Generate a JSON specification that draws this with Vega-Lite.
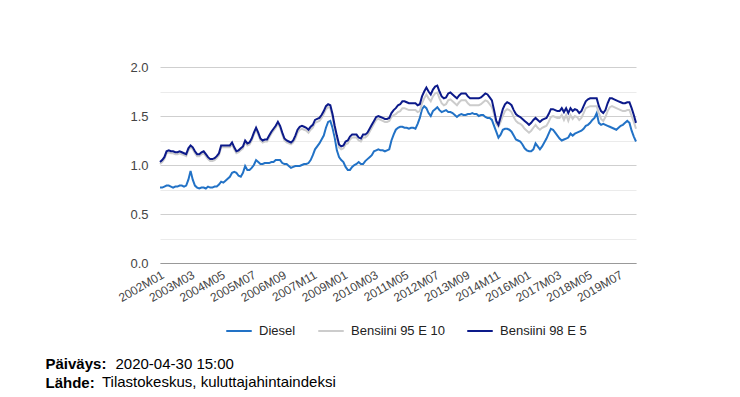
{
"$schema": "https://vega.github.io/schema/vega-lite/v6.json",
"width": 476,
"height": 196,
"autosize": {"type": "none"},
"padding": {"left": 160, "top": 67, "right": 104, "bottom": 134},
"background": "white",
"config": {"font": "Liberation Sans", "view": {"stroke": null}},
"title": {"text": "Tilastokeskus, kuluttajahintaindeksi", "orient": "none", "anchor": "start", "dx": -58, "dy": 320, "fontSize": 15, "fontWeight": "normal", "color": "#000000", "baseline": "alphabetic"},
"data": {"values": [
{"m":"2002M01","Diesel":0.77,"Bensiini 95 E 10":1.01,"Bensiini 98 E 5":1.03},
{"m":"2002M02","Diesel":0.77,"Bensiini 95 E 10":1.03,"Bensiini 98 E 5":1.05},
{"m":"2002M03","Diesel":0.78,"Bensiini 95 E 10":1.06,"Bensiini 98 E 5":1.08},
{"m":"2002M04","Diesel":0.79,"Bensiini 95 E 10":1.12,"Bensiini 98 E 5":1.14},
{"m":"2002M05","Diesel":0.79,"Bensiini 95 E 10":1.13,"Bensiini 98 E 5":1.15},
{"m":"2002M06","Diesel":0.78,"Bensiini 95 E 10":1.12,"Bensiini 98 E 5":1.14},
{"m":"2002M07","Diesel":0.77,"Bensiini 95 E 10":1.12,"Bensiini 98 E 5":1.14},
{"m":"2002M08","Diesel":0.78,"Bensiini 95 E 10":1.11,"Bensiini 98 E 5":1.13},
{"m":"2002M09","Diesel":0.78,"Bensiini 95 E 10":1.11,"Bensiini 98 E 5":1.13},
{"m":"2002M10","Diesel":0.79,"Bensiini 95 E 10":1.12,"Bensiini 98 E 5":1.14},
{"m":"2002M11","Diesel":0.79,"Bensiini 95 E 10":1.11,"Bensiini 98 E 5":1.13},
{"m":"2002M12","Diesel":0.78,"Bensiini 95 E 10":1.10,"Bensiini 98 E 5":1.12},
{"m":"2003M01","Diesel":0.79,"Bensiini 95 E 10":1.09,"Bensiini 98 E 5":1.11},
{"m":"2003M02","Diesel":0.85,"Bensiini 95 E 10":1.15,"Bensiini 98 E 5":1.17},
{"m":"2003M03","Diesel":0.94,"Bensiini 95 E 10":1.18,"Bensiini 98 E 5":1.20},
{"m":"2003M04","Diesel":0.85,"Bensiini 95 E 10":1.16,"Bensiini 98 E 5":1.18},
{"m":"2003M05","Diesel":0.79,"Bensiini 95 E 10":1.12,"Bensiini 98 E 5":1.14},
{"m":"2003M06","Diesel":0.77,"Bensiini 95 E 10":1.09,"Bensiini 98 E 5":1.11},
{"m":"2003M07","Diesel":0.76,"Bensiini 95 E 10":1.09,"Bensiini 98 E 5":1.11},
{"m":"2003M08","Diesel":0.77,"Bensiini 95 E 10":1.11,"Bensiini 98 E 5":1.13},
{"m":"2003M09","Diesel":0.77,"Bensiini 95 E 10":1.12,"Bensiini 98 E 5":1.14},
{"m":"2003M10","Diesel":0.76,"Bensiini 95 E 10":1.09,"Bensiini 98 E 5":1.11},
{"m":"2003M11","Diesel":0.78,"Bensiini 95 E 10":1.06,"Bensiini 98 E 5":1.08},
{"m":"2003M12","Diesel":0.77,"Bensiini 95 E 10":1.04,"Bensiini 98 E 5":1.06},
{"m":"2004M01","Diesel":0.77,"Bensiini 95 E 10":1.04,"Bensiini 98 E 5":1.06},
{"m":"2004M02","Diesel":0.78,"Bensiini 95 E 10":1.05,"Bensiini 98 E 5":1.07},
{"m":"2004M03","Diesel":0.78,"Bensiini 95 E 10":1.07,"Bensiini 98 E 5":1.09},
{"m":"2004M04","Diesel":0.80,"Bensiini 95 E 10":1.10,"Bensiini 98 E 5":1.12},
{"m":"2004M05","Diesel":0.83,"Bensiini 95 E 10":1.18,"Bensiini 98 E 5":1.20},
{"m":"2004M06","Diesel":0.82,"Bensiini 95 E 10":1.18,"Bensiini 98 E 5":1.20},
{"m":"2004M07","Diesel":0.84,"Bensiini 95 E 10":1.18,"Bensiini 98 E 5":1.20},
{"m":"2004M08","Diesel":0.86,"Bensiini 95 E 10":1.18,"Bensiini 98 E 5":1.20},
{"m":"2004M09","Diesel":0.88,"Bensiini 95 E 10":1.18,"Bensiini 98 E 5":1.20},
{"m":"2004M10","Diesel":0.92,"Bensiini 95 E 10":1.21,"Bensiini 98 E 5":1.23},
{"m":"2004M11","Diesel":0.93,"Bensiini 95 E 10":1.16,"Bensiini 98 E 5":1.18},
{"m":"2004M12","Diesel":0.92,"Bensiini 95 E 10":1.12,"Bensiini 98 E 5":1.14},
{"m":"2005M01","Diesel":0.89,"Bensiini 95 E 10":1.13,"Bensiini 98 E 5":1.15},
{"m":"2005M02","Diesel":0.88,"Bensiini 95 E 10":1.15,"Bensiini 98 E 5":1.17},
{"m":"2005M03","Diesel":0.92,"Bensiini 95 E 10":1.17,"Bensiini 98 E 5":1.19},
{"m":"2005M04","Diesel":0.99,"Bensiini 95 E 10":1.23,"Bensiini 98 E 5":1.25},
{"m":"2005M05","Diesel":0.95,"Bensiini 95 E 10":1.20,"Bensiini 98 E 5":1.22},
{"m":"2005M06","Diesel":0.95,"Bensiini 95 E 10":1.21,"Bensiini 98 E 5":1.23},
{"m":"2005M07","Diesel":0.97,"Bensiini 95 E 10":1.25,"Bensiini 98 E 5":1.27},
{"m":"2005M08","Diesel":1.00,"Bensiini 95 E 10":1.31,"Bensiini 98 E 5":1.33},
{"m":"2005M09","Diesel":1.05,"Bensiini 95 E 10":1.36,"Bensiini 98 E 5":1.38},
{"m":"2005M10","Diesel":1.03,"Bensiini 95 E 10":1.31,"Bensiini 98 E 5":1.33},
{"m":"2005M11","Diesel":1.01,"Bensiini 95 E 10":1.25,"Bensiini 98 E 5":1.27},
{"m":"2005M12","Diesel":1.01,"Bensiini 95 E 10":1.23,"Bensiini 98 E 5":1.25},
{"m":"2006M01","Diesel":1.02,"Bensiini 95 E 10":1.24,"Bensiini 98 E 5":1.26},
{"m":"2006M02","Diesel":1.02,"Bensiini 95 E 10":1.24,"Bensiini 98 E 5":1.26},
{"m":"2006M03","Diesel":1.02,"Bensiini 95 E 10":1.28,"Bensiini 98 E 5":1.30},
{"m":"2006M04","Diesel":1.03,"Bensiini 95 E 10":1.32,"Bensiini 98 E 5":1.34},
{"m":"2006M05","Diesel":1.03,"Bensiini 95 E 10":1.35,"Bensiini 98 E 5":1.37},
{"m":"2006M06","Diesel":1.05,"Bensiini 95 E 10":1.38,"Bensiini 98 E 5":1.40},
{"m":"2006M07","Diesel":1.05,"Bensiini 95 E 10":1.42,"Bensiini 98 E 5":1.44},
{"m":"2006M08","Diesel":1.05,"Bensiini 95 E 10":1.38,"Bensiini 98 E 5":1.40},
{"m":"2006M09","Diesel":1.02,"Bensiini 95 E 10":1.31,"Bensiini 98 E 5":1.33},
{"m":"2006M10","Diesel":1.01,"Bensiini 95 E 10":1.25,"Bensiini 98 E 5":1.27},
{"m":"2006M11","Diesel":1.01,"Bensiini 95 E 10":1.23,"Bensiini 98 E 5":1.25},
{"m":"2006M12","Diesel":0.99,"Bensiini 95 E 10":1.22,"Bensiini 98 E 5":1.24},
{"m":"2007M01","Diesel":0.97,"Bensiini 95 E 10":1.21,"Bensiini 98 E 5":1.23},
{"m":"2007M02","Diesel":0.98,"Bensiini 95 E 10":1.23,"Bensiini 98 E 5":1.25},
{"m":"2007M03","Diesel":0.99,"Bensiini 95 E 10":1.27,"Bensiini 98 E 5":1.30},
{"m":"2007M04","Diesel":0.99,"Bensiini 95 E 10":1.33,"Bensiini 98 E 5":1.36},
{"m":"2007M05","Diesel":0.99,"Bensiini 95 E 10":1.36,"Bensiini 98 E 5":1.39},
{"m":"2007M06","Diesel":1.00,"Bensiini 95 E 10":1.37,"Bensiini 98 E 5":1.40},
{"m":"2007M07","Diesel":1.01,"Bensiini 95 E 10":1.36,"Bensiini 98 E 5":1.39},
{"m":"2007M08","Diesel":1.01,"Bensiini 95 E 10":1.35,"Bensiini 98 E 5":1.38},
{"m":"2007M09","Diesel":1.02,"Bensiini 95 E 10":1.33,"Bensiini 98 E 5":1.36},
{"m":"2007M10","Diesel":1.05,"Bensiini 95 E 10":1.36,"Bensiini 98 E 5":1.39},
{"m":"2007M11","Diesel":1.10,"Bensiini 95 E 10":1.38,"Bensiini 98 E 5":1.41},
{"m":"2007M12","Diesel":1.16,"Bensiini 95 E 10":1.43,"Bensiini 98 E 5":1.46},
{"m":"2008M01","Diesel":1.19,"Bensiini 95 E 10":1.44,"Bensiini 98 E 5":1.47},
{"m":"2008M02","Diesel":1.22,"Bensiini 95 E 10":1.45,"Bensiini 98 E 5":1.48},
{"m":"2008M03","Diesel":1.26,"Bensiini 95 E 10":1.48,"Bensiini 98 E 5":1.51},
{"m":"2008M04","Diesel":1.30,"Bensiini 95 E 10":1.52,"Bensiini 98 E 5":1.55},
{"m":"2008M05","Diesel":1.38,"Bensiini 95 E 10":1.57,"Bensiini 98 E 5":1.60},
{"m":"2008M06","Diesel":1.44,"Bensiini 95 E 10":1.59,"Bensiini 98 E 5":1.62},
{"m":"2008M07","Diesel":1.45,"Bensiini 95 E 10":1.58,"Bensiini 98 E 5":1.61},
{"m":"2008M08","Diesel":1.38,"Bensiini 95 E 10":1.49,"Bensiini 98 E 5":1.52},
{"m":"2008M09","Diesel":1.28,"Bensiini 95 E 10":1.37,"Bensiini 98 E 5":1.40},
{"m":"2008M10","Diesel":1.15,"Bensiini 95 E 10":1.27,"Bensiini 98 E 5":1.30},
{"m":"2008M11","Diesel":1.08,"Bensiini 95 E 10":1.18,"Bensiini 98 E 5":1.21},
{"m":"2008M12","Diesel":1.05,"Bensiini 95 E 10":1.16,"Bensiini 98 E 5":1.19},
{"m":"2009M01","Diesel":1.03,"Bensiini 95 E 10":1.17,"Bensiini 98 E 5":1.20},
{"m":"2009M02","Diesel":0.98,"Bensiini 95 E 10":1.21,"Bensiini 98 E 5":1.24},
{"m":"2009M03","Diesel":0.95,"Bensiini 95 E 10":1.22,"Bensiini 98 E 5":1.25},
{"m":"2009M04","Diesel":0.95,"Bensiini 95 E 10":1.26,"Bensiini 98 E 5":1.29},
{"m":"2009M05","Diesel":0.98,"Bensiini 95 E 10":1.28,"Bensiini 98 E 5":1.31},
{"m":"2009M06","Diesel":1.00,"Bensiini 95 E 10":1.28,"Bensiini 98 E 5":1.31},
{"m":"2009M07","Diesel":1.01,"Bensiini 95 E 10":1.28,"Bensiini 98 E 5":1.31},
{"m":"2009M08","Diesel":1.03,"Bensiini 95 E 10":1.25,"Bensiini 98 E 5":1.28},
{"m":"2009M09","Diesel":1.01,"Bensiini 95 E 10":1.24,"Bensiini 98 E 5":1.27},
{"m":"2009M10","Diesel":1.01,"Bensiini 95 E 10":1.28,"Bensiini 98 E 5":1.31},
{"m":"2009M11","Diesel":1.04,"Bensiini 95 E 10":1.28,"Bensiini 98 E 5":1.31},
{"m":"2009M12","Diesel":1.06,"Bensiini 95 E 10":1.30,"Bensiini 98 E 5":1.33},
{"m":"2010M01","Diesel":1.08,"Bensiini 95 E 10":1.34,"Bensiini 98 E 5":1.37},
{"m":"2010M02","Diesel":1.10,"Bensiini 95 E 10":1.38,"Bensiini 98 E 5":1.41},
{"m":"2010M03","Diesel":1.14,"Bensiini 95 E 10":1.42,"Bensiini 98 E 5":1.45},
{"m":"2010M04","Diesel":1.15,"Bensiini 95 E 10":1.46,"Bensiini 98 E 5":1.49},
{"m":"2010M05","Diesel":1.16,"Bensiini 95 E 10":1.47,"Bensiini 98 E 5":1.50},
{"m":"2010M06","Diesel":1.15,"Bensiini 95 E 10":1.46,"Bensiini 98 E 5":1.49},
{"m":"2010M07","Diesel":1.15,"Bensiini 95 E 10":1.45,"Bensiini 98 E 5":1.48},
{"m":"2010M08","Diesel":1.14,"Bensiini 95 E 10":1.44,"Bensiini 98 E 5":1.47},
{"m":"2010M09","Diesel":1.15,"Bensiini 95 E 10":1.44,"Bensiini 98 E 5":1.47},
{"m":"2010M10","Diesel":1.16,"Bensiini 95 E 10":1.45,"Bensiini 98 E 5":1.48},
{"m":"2010M11","Diesel":1.25,"Bensiini 95 E 10":1.49,"Bensiini 98 E 5":1.53},
{"m":"2010M12","Diesel":1.31,"Bensiini 95 E 10":1.51,"Bensiini 98 E 5":1.56},
{"m":"2011M01","Diesel":1.36,"Bensiini 95 E 10":1.52,"Bensiini 98 E 5":1.58},
{"m":"2011M02","Diesel":1.38,"Bensiini 95 E 10":1.54,"Bensiini 98 E 5":1.61},
{"m":"2011M03","Diesel":1.39,"Bensiini 95 E 10":1.55,"Bensiini 98 E 5":1.62},
{"m":"2011M04","Diesel":1.39,"Bensiini 95 E 10":1.58,"Bensiini 98 E 5":1.65},
{"m":"2011M05","Diesel":1.38,"Bensiini 95 E 10":1.58,"Bensiini 98 E 5":1.65},
{"m":"2011M06","Diesel":1.38,"Bensiini 95 E 10":1.57,"Bensiini 98 E 5":1.64},
{"m":"2011M07","Diesel":1.37,"Bensiini 95 E 10":1.56,"Bensiini 98 E 5":1.63},
{"m":"2011M08","Diesel":1.38,"Bensiini 95 E 10":1.56,"Bensiini 98 E 5":1.63},
{"m":"2011M09","Diesel":1.38,"Bensiini 95 E 10":1.56,"Bensiini 98 E 5":1.63},
{"m":"2011M10","Diesel":1.37,"Bensiini 95 E 10":1.56,"Bensiini 98 E 5":1.63},
{"m":"2011M11","Diesel":1.42,"Bensiini 95 E 10":1.54,"Bensiini 98 E 5":1.61},
{"m":"2011M12","Diesel":1.48,"Bensiini 95 E 10":1.55,"Bensiini 98 E 5":1.62},
{"m":"2012M01","Diesel":1.57,"Bensiini 95 E 10":1.63,"Bensiini 98 E 5":1.70},
{"m":"2012M02","Diesel":1.60,"Bensiini 95 E 10":1.68,"Bensiini 98 E 5":1.75},
{"m":"2012M03","Diesel":1.58,"Bensiini 95 E 10":1.72,"Bensiini 98 E 5":1.79},
{"m":"2012M04","Diesel":1.53,"Bensiini 95 E 10":1.68,"Bensiini 98 E 5":1.75},
{"m":"2012M05","Diesel":1.50,"Bensiini 95 E 10":1.65,"Bensiini 98 E 5":1.72},
{"m":"2012M06","Diesel":1.55,"Bensiini 95 E 10":1.70,"Bensiini 98 E 5":1.77},
{"m":"2012M07","Diesel":1.57,"Bensiini 95 E 10":1.73,"Bensiini 98 E 5":1.80},
{"m":"2012M08","Diesel":1.59,"Bensiini 95 E 10":1.74,"Bensiini 98 E 5":1.81},
{"m":"2012M09","Diesel":1.56,"Bensiini 95 E 10":1.68,"Bensiini 98 E 5":1.75},
{"m":"2012M10","Diesel":1.54,"Bensiini 95 E 10":1.63,"Bensiini 98 E 5":1.70},
{"m":"2012M11","Diesel":1.55,"Bensiini 95 E 10":1.61,"Bensiini 98 E 5":1.68},
{"m":"2012M12","Diesel":1.56,"Bensiini 95 E 10":1.62,"Bensiini 98 E 5":1.69},
{"m":"2013M01","Diesel":1.54,"Bensiini 95 E 10":1.66,"Bensiini 98 E 5":1.73},
{"m":"2013M02","Diesel":1.54,"Bensiini 95 E 10":1.67,"Bensiini 98 E 5":1.74},
{"m":"2013M03","Diesel":1.53,"Bensiini 95 E 10":1.65,"Bensiini 98 E 5":1.72},
{"m":"2013M04","Diesel":1.51,"Bensiini 95 E 10":1.63,"Bensiini 98 E 5":1.70},
{"m":"2013M05","Diesel":1.49,"Bensiini 95 E 10":1.61,"Bensiini 98 E 5":1.68},
{"m":"2013M06","Diesel":1.51,"Bensiini 95 E 10":1.64,"Bensiini 98 E 5":1.71},
{"m":"2013M07","Diesel":1.52,"Bensiini 95 E 10":1.66,"Bensiini 98 E 5":1.73},
{"m":"2013M08","Diesel":1.51,"Bensiini 95 E 10":1.66,"Bensiini 98 E 5":1.73},
{"m":"2013M09","Diesel":1.51,"Bensiini 95 E 10":1.66,"Bensiini 98 E 5":1.73},
{"m":"2013M10","Diesel":1.52,"Bensiini 95 E 10":1.63,"Bensiini 98 E 5":1.70},
{"m":"2013M11","Diesel":1.52,"Bensiini 95 E 10":1.61,"Bensiini 98 E 5":1.68},
{"m":"2013M12","Diesel":1.53,"Bensiini 95 E 10":1.61,"Bensiini 98 E 5":1.68},
{"m":"2014M01","Diesel":1.52,"Bensiini 95 E 10":1.61,"Bensiini 98 E 5":1.68},
{"m":"2014M02","Diesel":1.52,"Bensiini 95 E 10":1.61,"Bensiini 98 E 5":1.68},
{"m":"2014M03","Diesel":1.50,"Bensiini 95 E 10":1.61,"Bensiini 98 E 5":1.68},
{"m":"2014M04","Diesel":1.51,"Bensiini 95 E 10":1.62,"Bensiini 98 E 5":1.69},
{"m":"2014M05","Diesel":1.51,"Bensiini 95 E 10":1.64,"Bensiini 98 E 5":1.71},
{"m":"2014M06","Diesel":1.49,"Bensiini 95 E 10":1.66,"Bensiini 98 E 5":1.73},
{"m":"2014M07","Diesel":1.48,"Bensiini 95 E 10":1.65,"Bensiini 98 E 5":1.72},
{"m":"2014M08","Diesel":1.48,"Bensiini 95 E 10":1.62,"Bensiini 98 E 5":1.69},
{"m":"2014M09","Diesel":1.46,"Bensiini 95 E 10":1.59,"Bensiini 98 E 5":1.66},
{"m":"2014M10","Diesel":1.40,"Bensiini 95 E 10":1.52,"Bensiini 98 E 5":1.56},
{"m":"2014M11","Diesel":1.34,"Bensiini 95 E 10":1.42,"Bensiini 98 E 5":1.45},
{"m":"2014M12","Diesel":1.28,"Bensiini 95 E 10":1.39,"Bensiini 98 E 5":1.41},
{"m":"2015M01","Diesel":1.31,"Bensiini 95 E 10":1.44,"Bensiini 98 E 5":1.49},
{"m":"2015M02","Diesel":1.36,"Bensiini 95 E 10":1.50,"Bensiini 98 E 5":1.57},
{"m":"2015M03","Diesel":1.37,"Bensiini 95 E 10":1.55,"Bensiini 98 E 5":1.62},
{"m":"2015M04","Diesel":1.37,"Bensiini 95 E 10":1.57,"Bensiini 98 E 5":1.64},
{"m":"2015M05","Diesel":1.36,"Bensiini 95 E 10":1.56,"Bensiini 98 E 5":1.63},
{"m":"2015M06","Diesel":1.34,"Bensiini 95 E 10":1.54,"Bensiini 98 E 5":1.61},
{"m":"2015M07","Diesel":1.30,"Bensiini 95 E 10":1.49,"Bensiini 98 E 5":1.56},
{"m":"2015M08","Diesel":1.26,"Bensiini 95 E 10":1.45,"Bensiini 98 E 5":1.52},
{"m":"2015M09","Diesel":1.25,"Bensiini 95 E 10":1.43,"Bensiini 98 E 5":1.50},
{"m":"2015M10","Diesel":1.24,"Bensiini 95 E 10":1.42,"Bensiini 98 E 5":1.49},
{"m":"2015M11","Diesel":1.21,"Bensiini 95 E 10":1.40,"Bensiini 98 E 5":1.47},
{"m":"2015M12","Diesel":1.17,"Bensiini 95 E 10":1.37,"Bensiini 98 E 5":1.45},
{"m":"2016M01","Diesel":1.15,"Bensiini 95 E 10":1.35,"Bensiini 98 E 5":1.43},
{"m":"2016M02","Diesel":1.14,"Bensiini 95 E 10":1.33,"Bensiini 98 E 5":1.41},
{"m":"2016M03","Diesel":1.14,"Bensiini 95 E 10":1.35,"Bensiini 98 E 5":1.43},
{"m":"2016M04","Diesel":1.16,"Bensiini 95 E 10":1.38,"Bensiini 98 E 5":1.46},
{"m":"2016M05","Diesel":1.22,"Bensiini 95 E 10":1.41,"Bensiini 98 E 5":1.48},
{"m":"2016M06","Diesel":1.19,"Bensiini 95 E 10":1.38,"Bensiini 98 E 5":1.46},
{"m":"2016M07","Diesel":1.16,"Bensiini 95 E 10":1.36,"Bensiini 98 E 5":1.44},
{"m":"2016M08","Diesel":1.19,"Bensiini 95 E 10":1.38,"Bensiini 98 E 5":1.46},
{"m":"2016M09","Diesel":1.23,"Bensiini 95 E 10":1.39,"Bensiini 98 E 5":1.47},
{"m":"2016M10","Diesel":1.27,"Bensiini 95 E 10":1.40,"Bensiini 98 E 5":1.48},
{"m":"2016M11","Diesel":1.32,"Bensiini 95 E 10":1.44,"Bensiini 98 E 5":1.52},
{"m":"2016M12","Diesel":1.37,"Bensiini 95 E 10":1.49,"Bensiini 98 E 5":1.57},
{"m":"2017M01","Diesel":1.36,"Bensiini 95 E 10":1.50,"Bensiini 98 E 5":1.57},
{"m":"2017M02","Diesel":1.33,"Bensiini 95 E 10":1.49,"Bensiini 98 E 5":1.56},
{"m":"2017M03","Diesel":1.30,"Bensiini 95 E 10":1.48,"Bensiini 98 E 5":1.55},
{"m":"2017M04","Diesel":1.27,"Bensiini 95 E 10":1.48,"Bensiini 98 E 5":1.55},
{"m":"2017M05","Diesel":1.25,"Bensiini 95 E 10":1.51,"Bensiini 98 E 5":1.58},
{"m":"2017M06","Diesel":1.26,"Bensiini 95 E 10":1.46,"Bensiini 98 E 5":1.54},
{"m":"2017M07","Diesel":1.27,"Bensiini 95 E 10":1.51,"Bensiini 98 E 5":1.58},
{"m":"2017M08","Diesel":1.28,"Bensiini 95 E 10":1.45,"Bensiini 98 E 5":1.53},
{"m":"2017M09","Diesel":1.32,"Bensiini 95 E 10":1.51,"Bensiini 98 E 5":1.58},
{"m":"2017M10","Diesel":1.30,"Bensiini 95 E 10":1.47,"Bensiini 98 E 5":1.55},
{"m":"2017M11","Diesel":1.32,"Bensiini 95 E 10":1.50,"Bensiini 98 E 5":1.57},
{"m":"2017M12","Diesel":1.33,"Bensiini 95 E 10":1.49,"Bensiini 98 E 5":1.56},
{"m":"2018M01","Diesel":1.34,"Bensiini 95 E 10":1.46,"Bensiini 98 E 5":1.53},
{"m":"2018M02","Diesel":1.35,"Bensiini 95 E 10":1.48,"Bensiini 98 E 5":1.55},
{"m":"2018M03","Diesel":1.37,"Bensiini 95 E 10":1.53,"Bensiini 98 E 5":1.60},
{"m":"2018M04","Diesel":1.40,"Bensiini 95 E 10":1.58,"Bensiini 98 E 5":1.65},
{"m":"2018M05","Diesel":1.41,"Bensiini 95 E 10":1.59,"Bensiini 98 E 5":1.67},
{"m":"2018M06","Diesel":1.43,"Bensiini 95 E 10":1.60,"Bensiini 98 E 5":1.68},
{"m":"2018M07","Diesel":1.46,"Bensiini 95 E 10":1.60,"Bensiini 98 E 5":1.68},
{"m":"2018M08","Diesel":1.48,"Bensiini 95 E 10":1.60,"Bensiini 98 E 5":1.68},
{"m":"2018M09","Diesel":1.53,"Bensiini 95 E 10":1.60,"Bensiini 98 E 5":1.68},
{"m":"2018M10","Diesel":1.43,"Bensiini 95 E 10":1.53,"Bensiini 98 E 5":1.60},
{"m":"2018M11","Diesel":1.41,"Bensiini 95 E 10":1.47,"Bensiini 98 E 5":1.55},
{"m":"2018M12","Diesel":1.42,"Bensiini 95 E 10":1.45,"Bensiini 98 E 5":1.53},
{"m":"2019M01","Diesel":1.41,"Bensiini 95 E 10":1.49,"Bensiini 98 E 5":1.56},
{"m":"2019M02","Diesel":1.40,"Bensiini 95 E 10":1.55,"Bensiini 98 E 5":1.63},
{"m":"2019M03","Diesel":1.39,"Bensiini 95 E 10":1.59,"Bensiini 98 E 5":1.68},
{"m":"2019M04","Diesel":1.38,"Bensiini 95 E 10":1.60,"Bensiini 98 E 5":1.68},
{"m":"2019M05","Diesel":1.37,"Bensiini 95 E 10":1.59,"Bensiini 98 E 5":1.67},
{"m":"2019M06","Diesel":1.36,"Bensiini 95 E 10":1.58,"Bensiini 98 E 5":1.66},
{"m":"2019M07","Diesel":1.38,"Bensiini 95 E 10":1.57,"Bensiini 98 E 5":1.65},
{"m":"2019M08","Diesel":1.40,"Bensiini 95 E 10":1.56,"Bensiini 98 E 5":1.64},
{"m":"2019M09","Diesel":1.41,"Bensiini 95 E 10":1.55,"Bensiini 98 E 5":1.63},
{"m":"2019M10","Diesel":1.43,"Bensiini 95 E 10":1.55,"Bensiini 98 E 5":1.63},
{"m":"2019M11","Diesel":1.45,"Bensiini 95 E 10":1.56,"Bensiini 98 E 5":1.64},
{"m":"2019M12","Diesel":1.43,"Bensiini 95 E 10":1.56,"Bensiini 98 E 5":1.64},
{"m":"2020M01","Diesel":1.35,"Bensiini 95 E 10":1.50,"Bensiini 98 E 5":1.58},
{"m":"2020M02","Diesel":1.29,"Bensiini 95 E 10":1.44,"Bensiini 98 E 5":1.51},
{"m":"2020M03","Diesel":1.24,"Bensiini 95 E 10":1.37,"Bensiini 98 E 5":1.43}
]},
"transform": [{"fold": ["Diesel", "Bensiini 95 E 10", "Bensiini 98 E 5"], "as": ["sarja", "arvo"]}],
"mark": {"type": "line", "strokeWidth": 2},
"encoding": {
  "x": {"field": "m", "type": "ordinal", "sort": "ascending", "scale": {"type": "point", "padding": 0},
    "axis": {"values": ["2002M01","2003M03","2004M05","2005M07","2006M09","2007M11","2009M01","2010M03","2011M05","2012M07","2013M09","2014M11","2016M01","2017M03","2018M05","2019M07"],
      "labelAngle": -30, "labelOverlap": false, "labelFontSize": 12, "labelColor": "#444444", "labelPadding": 6,
      "ticks": false, "grid": false, "domainColor": "#999999", "domainWidth": 1,
      "title": ["Päiväys:", "Lähde:"], "titleX": -115, "titleY": 105, "titleAlign": "left", "titleAnchor": "start", "titleBaseline": "alphabetic",
      "titleFontSize": 15, "titleFontWeight": "bold", "titleColor": "#000000", "titleLineHeight": 19}},
  "y": {"field": "arvo", "type": "quantitative", "scale": {"domain": [0, 2], "nice": false},
    "axis": {"values": [0, 0.25, 0.5, 0.75, 1, 1.25, 1.5, 1.75, 2],
      "labelExpr": "datum.value % 0.5 == 0 ? format(datum.value, '.1f') : ''",
      "gridColor": {"condition": {"test": "datum.value % 0.5 == 0", "value": "#cfcfcf"}, "value": "#ebebeb"},
      "domain": false, "ticks": false, "labelFontSize": 13, "labelColor": "#444444", "labelPadding": 12,
      "title": "2020-04-30 15:00", "titleAngle": 0, "titleX": -45, "titleY": 301, "titleAlign": "left", "titleBaseline": "alphabetic",
      "titleFontSize": 15, "titleFontWeight": "normal", "titleColor": "#000000"}},
  "color": {"field": "sarja", "type": "nominal",
    "scale": {"domain": ["Diesel", "Bensiini 95 E 10", "Bensiini 98 E 5"], "range": ["#2272c6", "#cccccc", "#0c1a8a"]},
    "legend": {"orient": "none", "legendX": 65, "legendY": 250, "direction": "horizontal", "title": null,
      "symbolType": "stroke", "symbolStrokeWidth": 2, "symbolSize": 650, "labelFontSize": 13, "labelColor": "#222222",
      "columnPadding": 18, "labelOffset": 6}}
}
}
